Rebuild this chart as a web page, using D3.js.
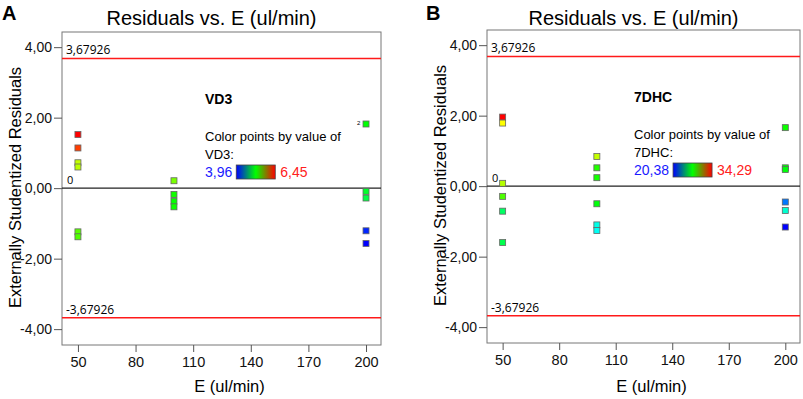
<!DOCTYPE html>
<html>
<head>
<meta charset="utf-8">
<script src="https://cdn.jsdelivr.net/npm/d3@7"></script>
<style>
  body { margin: 0; background: #fff; }
  text { font-family: "Liberation Sans", Arial, sans-serif; }
</style>
</head>
<body>
<div id="chart"></div>
<script>
// tick labels
var xTicks = [50, 80, 110, 140, 170, 200];
var yTicks = [-4, -2, 0, 2, 4];
var limit = 3.67926;

// panel A : VD3
var flowA = [50, 50, 50, 50, 50, 50, 100, 100, 100, 100, 200, 200, 200, 200, 200];
var residA = [1.52, 1.14, 0.72, 0.60, -1.24, -1.38, 0.21, -0.18, -0.37, -0.53, 1.82, -0.09, -0.28, -1.21, -1.57];
var vd3 = [6.45, 6.30, 5.68, 5.66, 5.42, 5.40, 5.50, 5.25, 5.22, 5.24, 5.20, 5.10, 5.04, 4.05, 3.96];

// panel B : 7DHC
var flowB = [50, 50, 50, 50, 50, 50, 100, 100, 100, 100, 100, 100, 200, 200, 200, 200, 200, 200];
var residB = [1.96, 1.79, 0.08, -0.29, -0.71, -1.60, 0.84, 0.52, 0.24, -0.50, -1.10, -1.26, 1.66, 0.52, 0.47, -0.45, -0.69, -1.16];
var dhc = [34.29, 30.8, 29.8, 28.4, 26.0, 26.3, 30.0, 27.8, 27.6, 27.2, 24.2, 24.0, 27.5, 27.3, 27.2, 22.0, 24.5, 20.38];

var W = 803, H = 399;
var svg = d3.select("#chart").append("svg")
    .attr("width", W)
    .attr("height", H);

var defs = svg.append("defs");

// comma decimals, plain hyphen for minus
function comma(spec) {
    var f = d3.format(spec);
    return function (v) { return f(v).replace(".", ",").replace("\u2212", "-"); };
}

function drawPanel(p) {
    var x = d3.scaleLinear().domain([41.7, 207.8]).range([p.left, p.right]);
    var y = d3.scaleLinear().domain([-4.45, 4.43]).range([p.bottom, p.top]);

    var lo = p.cmin, hi = p.cmax, st = (hi - lo) / 4;
    var color = d3.scaleLinear()
        .domain([lo, lo + st, lo + 2 * st, lo + 3 * st, hi])
        .range(["#0000ff", "#00ffff", "#00ff00", "#ffff00", "#ff0000"]);

    var g = svg.append("g");

    // panel letter and title
    g.append("text")
        .attr("x", p.letterX).attr("y", 20)
        .style("font-size", "20px").style("font-weight", "bold")
        .text(p.letter);
    g.append("text")
        .attr("x", (p.left + p.right) / 2 - 10).attr("y", 25)
        .attr("text-anchor", "middle")
        .style("font-size", "20px")
        .text("Residuals vs. E (ul/min)");

    // frame
    g.append("rect")
        .attr("x", p.left).attr("y", p.top)
        .attr("width", p.right - p.left).attr("height", p.bottom - p.top)
        .attr("fill", "none").attr("stroke", "#777").attr("stroke-width", 1);

    // axes
    var yAxis = d3.axisLeft(y).tickValues(yTicks).tickSize(8).tickPadding(2)
        .tickFormat(comma(".2f"));
    var ya = g.append("g").attr("transform", "translate(" + p.left + ",0)").call(yAxis);
    ya.select(".domain").remove();
    ya.selectAll("line").attr("stroke", "#555");
    ya.selectAll("text").style("font-size", "14px").attr("fill", "#111")
        .style("font-family", "Liberation Sans, Arial, sans-serif");

    var xAxis = d3.axisBottom(x).tickValues(xTicks).tickSize(7).tickPadding(5);
    var xa = g.append("g").attr("transform", "translate(0," + p.bottom + ")").call(xAxis);
    xa.select(".domain").remove();
    xa.selectAll("line").attr("stroke", "#555");
    xa.selectAll("text").style("font-size", "14.5px").attr("fill", "#111")
        .style("font-family", "Liberation Sans, Arial, sans-serif");

    // axis titles
    g.append("text")
        .attr("x", (p.left + p.right) / 2 + 8).attr("y", 392)
        .attr("text-anchor", "middle")
        .style("font-size", "16.5px")
        .text("E (ul/min)");
    g.append("text")
        .attr("transform", "translate(" + (p.left - 41) + "," + ((p.top + p.bottom) / 2 - 1) + ") rotate(-90)")
        .attr("text-anchor", "middle")
        .style("font-size", "16.5px")
        .text("Externally Studentized Residuals");

    // limit lines
    [limit, -limit].forEach(function (v) {
        g.append("line")
            .attr("x1", p.left).attr("x2", p.right)
            .attr("y1", y(v)).attr("y2", y(v))
            .attr("stroke", "#ff1a1a").attr("stroke-width", 1.5);
        g.append("text")
            .attr("x", p.left + 4).attr("y", y(v) - 4)
            .style("font-size", "12px")
            .style("font-family", "Open Sans, DejaVu Sans, sans-serif")
            .text(comma(".5f")(v));
    });

    // zero line
    g.append("line")
        .attr("x1", p.left).attr("x2", p.right)
        .attr("y1", y(0)).attr("y2", y(0))
        .attr("stroke", "#222").attr("stroke-width", 1.3);
    g.append("text")
        .attr("x", p.left + 5).attr("y", y(0) - 4)
        .style("font-size", "11px")
        .style("font-family", "Open Sans, DejaVu Sans, sans-serif")
        .text("0");

    // points
    var pts = p.flow.map(function (f, i) { return { e: f, r: p.resid[i], c: p.cval[i] }; });
    g.append("g").selectAll("rect")
        .data(pts)
        .join("rect")
        .attr("x", function (d) { return x(d.e) - 3; })
        .attr("y", function (d) { return y(d.r) - 3; })
        .attr("width", 6).attr("height", 6)
        .attr("fill", function (d) { return color(d.c); })
        .attr("stroke", "#666").attr("stroke-width", 0.8);

    if (p.dup) {
        g.append("text")
            .attr("x", x(p.dup[0]) - 9).attr("y", y(p.dup[1]) + 1)
            .style("font-size", "6px")
            .text("2");
    }

    // legend
    var lx = p.legX, ly = p.legY;
    g.append("text")
        .attr("x", lx).attr("y", ly)
        .style("font-size", "14px").style("font-weight", "bold")
        .text(p.name);
    g.append("text")
        .attr("x", lx).attr("y", ly + 37)
        .style("font-size", "13px")
        .text("Color points by value of");
    g.append("text")
        .attr("x", lx).attr("y", ly + 55)
        .style("font-size", "13px")
        .text(p.name + ":");
    var fmt = comma(".2f");
    var minT = g.append("text")
        .attr("x", lx).attr("y", ly + 73)
        .attr("fill", "#1a1aff")
        .style("font-size", "14px")
        .text(fmt(lo));
    var bx = lx + minT.node().getComputedTextLength() + 4;
    var gid = "grad" + p.letter;
    var grad = defs.append("linearGradient").attr("id", gid);
    grad.append("stop").attr("offset", "0%").attr("stop-color", "#0000ff");
    grad.append("stop").attr("offset", "50%").attr("stop-color", "#00ff00");
    grad.append("stop").attr("offset", "100%").attr("stop-color", "#ff0000");
    g.append("rect")
        .attr("x", bx).attr("y", ly + 61)
        .attr("width", 39).attr("height", 14)
        .attr("fill", "url(#" + gid + ")")
        .attr("stroke", "#444").attr("stroke-width", 0.8);
    g.append("text")
        .attr("x", bx + 44).attr("y", ly + 73)
        .attr("fill", "#ff2020")
        .style("font-size", "14px")
        .text(fmt(hi));
}

drawPanel({
    letter: "A", letterX: 2, name: "VD3",
    left: 62, right: 381, top: 32, bottom: 345,
    flow: flowA, resid: residA, cval: vd3, cmin: 3.96, cmax: 6.45,
    dup: [200, 1.82],
    legX: 205, legY: 104
});

drawPanel({
    letter: "B", letterX: 426, name: "7DHC",
    left: 487, right: 800, top: 30, bottom: 343,
    flow: flowB, resid: residB, cval: dhc, cmin: 20.38, cmax: 34.29,
    dup: null,
    legX: 634, legY: 102
});
</script>
</body>
</html>
